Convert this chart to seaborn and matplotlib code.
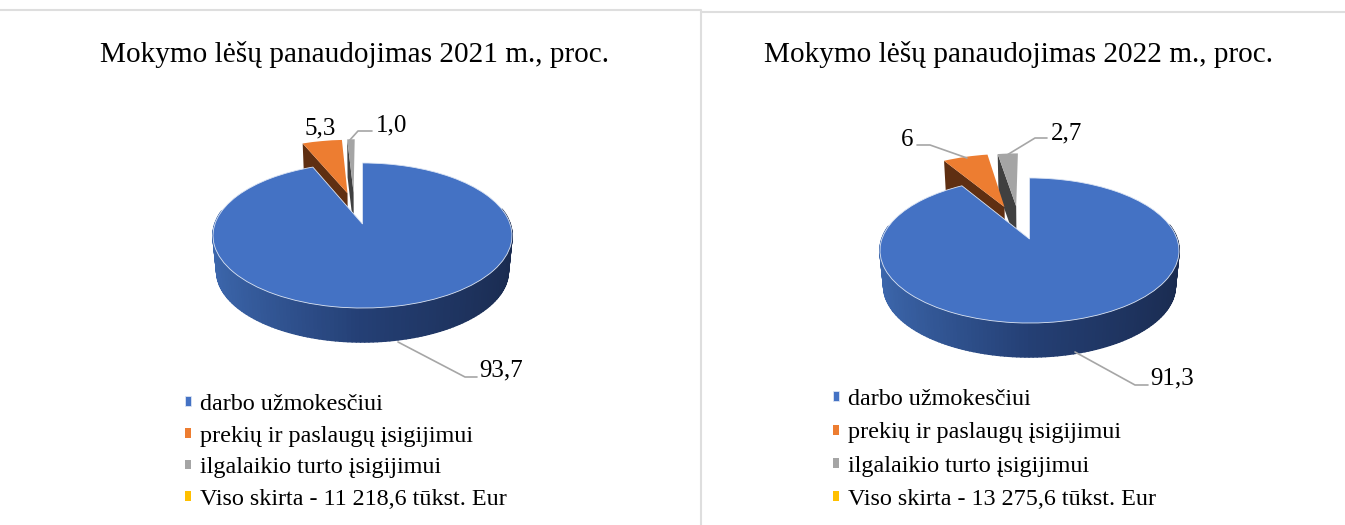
import numpy as np
import matplotlib
matplotlib.use('Agg')
import matplotlib.pyplot as plt
import seaborn as sns
from matplotlib.collections import PolyCollection
from matplotlib.colors import LinearSegmentedColormap
from matplotlib.transforms import Transform

# data
categories = ['darbo užmokesčiui', 'prekių ir paslaugų įsigijimui',
              'ilgalaikio turto įsigijimui']
values_2021 = [93.7, 5.3, 1.0, 0]
values_2022 = [91.3, 6, 2.7, 0]
labels_2021 = ['93,7', '5,3', '1,0']
labels_2022 = ['91,3', '6', '2,7']
total_2021 = 'Viso skirta - 11 218,6 tūkst. Eur'
total_2022 = 'Viso skirta - 13 275,6 tūkst. Eur'
title_2021 = 'Mokymo lėšų panaudojimas 2021 m., proc.'
title_2022 = 'Mokymo lėšų panaudojimas 2022 m., proc.'

colors = sns.color_palette(['#4472C4', '#ED7D31', '#A5A5A5', '#FFC000'])
cut_colors = [None, '#5F2F12', '#404040']
side_cmap = LinearSegmentedColormap.from_list('side', ['#3D68AE', '#243F74', '#1A2B50'])

RX, KX, AY, DEPTH, SHRINK = 147.6, 0.1586, 70.7, 36, 0.975


class Tilt(Transform):
    # unit pie -> pixels, with a bit of perspective
    input_dims = output_dims = 2
    is_affine = False
    has_inverse = False

    def __init__(self, cx, cy, sunk=False):
        super().__init__()
        self.cx, self.cy, self.sunk = cx, cy, sunk

    def transform_non_affine(self, xy):
        xy = np.asarray(xy, dtype=float)
        w = 1 + KX * xy[:, 1]
        px = RX * xy[:, 0] / w
        py = -AY * xy[:, 1] / w
        if self.sunk:
            px, py = px * SHRINK, py * SHRINK + DEPTH
        return np.column_stack([self.cx + px, self.cy + py])


def draw_pie(ax, values, explode, gray_shift, apex):
    top = Tilt(*apex)
    low = Tilt(*apex, sunk=True)
    wedges, _ = ax.pie(values, colors=colors, explode=explode, startangle=90,
                       counterclock=False, radius=1)
    # pieces flying out go behind the big one
    for i, w in enumerate(wedges):
        if i == 2:
            w.set_center((w.center[0] + gray_shift, w.center[1]))
        w.set_transform(top + ax.transData)
        w.set_edgecolor('#DCE5F4' if i == 0 else 'none')
        w.set_linewidth(0.6 if i == 0 else 0)
        w.set_zorder(5 if i == 0 else 3)

    # rim of big slice, colour runs left to right
    blue = wedges[0]
    phi = np.radians(np.linspace(blue.theta1, blue.theta2, 240))
    rim = np.column_stack([np.cos(phi), np.sin(phi)])
    up, down = top.transform_non_affine(rim), low.transform_non_affine(rim)
    quads, shades = [], []
    for j in range(len(phi) - 1):
        if rim[j, 1] > 0.2:
            continue
        quads.append([up[j], up[j + 1], down[j + 1], down[j]])
        shades.append(side_cmap((rim[j, 0] + 1) / 2))
    ax.add_collection(PolyCollection(quads, facecolors=shades, edgecolors=shades,
                                     linewidths=1.2, zorder=4))

    # visible cut faces of the small slices
    for i in (1, 2):
        w = wedges[i]
        a = np.radians(w.theta2)
        pts = np.array([w.center, [w.center[0] + np.cos(a), w.center[1] + np.sin(a)]])
        up, down = top.transform_non_affine(pts), low.transform_non_affine(pts)
        ax.fill([up[0, 0], up[1, 0], down[1, 0], down[0, 0]],
                [up[0, 1], up[1, 1], down[1, 1], down[0, 1]],
                color=cut_colors[i], lw=0, zorder=2)
    return wedges


sns.set_theme(style='white')
plt.rcParams['font.family'] = ['Liberation Serif', 'DejaVu Serif']

fig = plt.figure(figsize=(13.45, 5.25), dpi=100)
ax = fig.add_axes([0, 0, 1, 1])

w21 = draw_pie(ax, values_2021, [0, 0.48, 0.48, 0], -0.05, (362.5, 224))
w22 = draw_pie(ax, values_2022, [0, 0.52, 0.5, 0], -0.055, (1029.5, 239))

ax.set_aspect('auto')
ax.set_xlim(0, 1345)
ax.set_ylim(525, 0)
ax.axis('off')

# panel borders
border = '#DEDEDE'
ax.plot([0, 701, 701], [10, 10, 525], color=border, lw=1.5, zorder=1)
ax.plot([701, 1345], [12, 12], color=border, lw=1.5, zorder=1)

ax.text(354.5, 54, title_2021, ha='center', va='center', fontsize=21.1, color='black')
ax.text(1019, 54, title_2022, ha='center', va='center', fontsize=21.1, color='black')

# leader lines
leader = '#A6A6A6'
for xs, ys in [([398, 465, 477], [342, 377, 377]),
               ([349, 358, 372], [141, 131, 131]),
               ([1075, 1135, 1148], [352, 385, 385]),
               ([917, 930, 967], [145, 145, 158]),
               ([1007, 1035, 1047], [155, 138, 138])]:
    ax.plot(xs, ys, color=leader, lw=1.2, zorder=6)

label_spots_21 = [(501, 370), (320, 128), (392, 125)]
label_spots_22 = [(1172, 378.5), (907, 139.5), (1066.5, 133)]
for txt, (x, y) in zip(labels_2021 + labels_2022, label_spots_21 + label_spots_22):
    ax.text(x, y, txt, ha='center', va='center', fontsize=18, color='black', zorder=7)


def add_legend(wedges, total, left, top, spacing):
    fig.legend(wedges, categories + [total], loc='upper left',
               bbox_to_anchor=(left / 1345, 1 - top / 525), frameon=False,
               fontsize=17.4, handlelength=0.25, handleheight=0.25,
               handletextpad=0.37, labelspacing=spacing, borderpad=0, borderaxespad=0,
               labelcolor='black')


add_legend(w21, total_2021, 185, 394, 0.44)
add_legend(w22, total_2022, 833, 389, 0.51)

fig.savefig('out.png', dpi=100, facecolor='white')
